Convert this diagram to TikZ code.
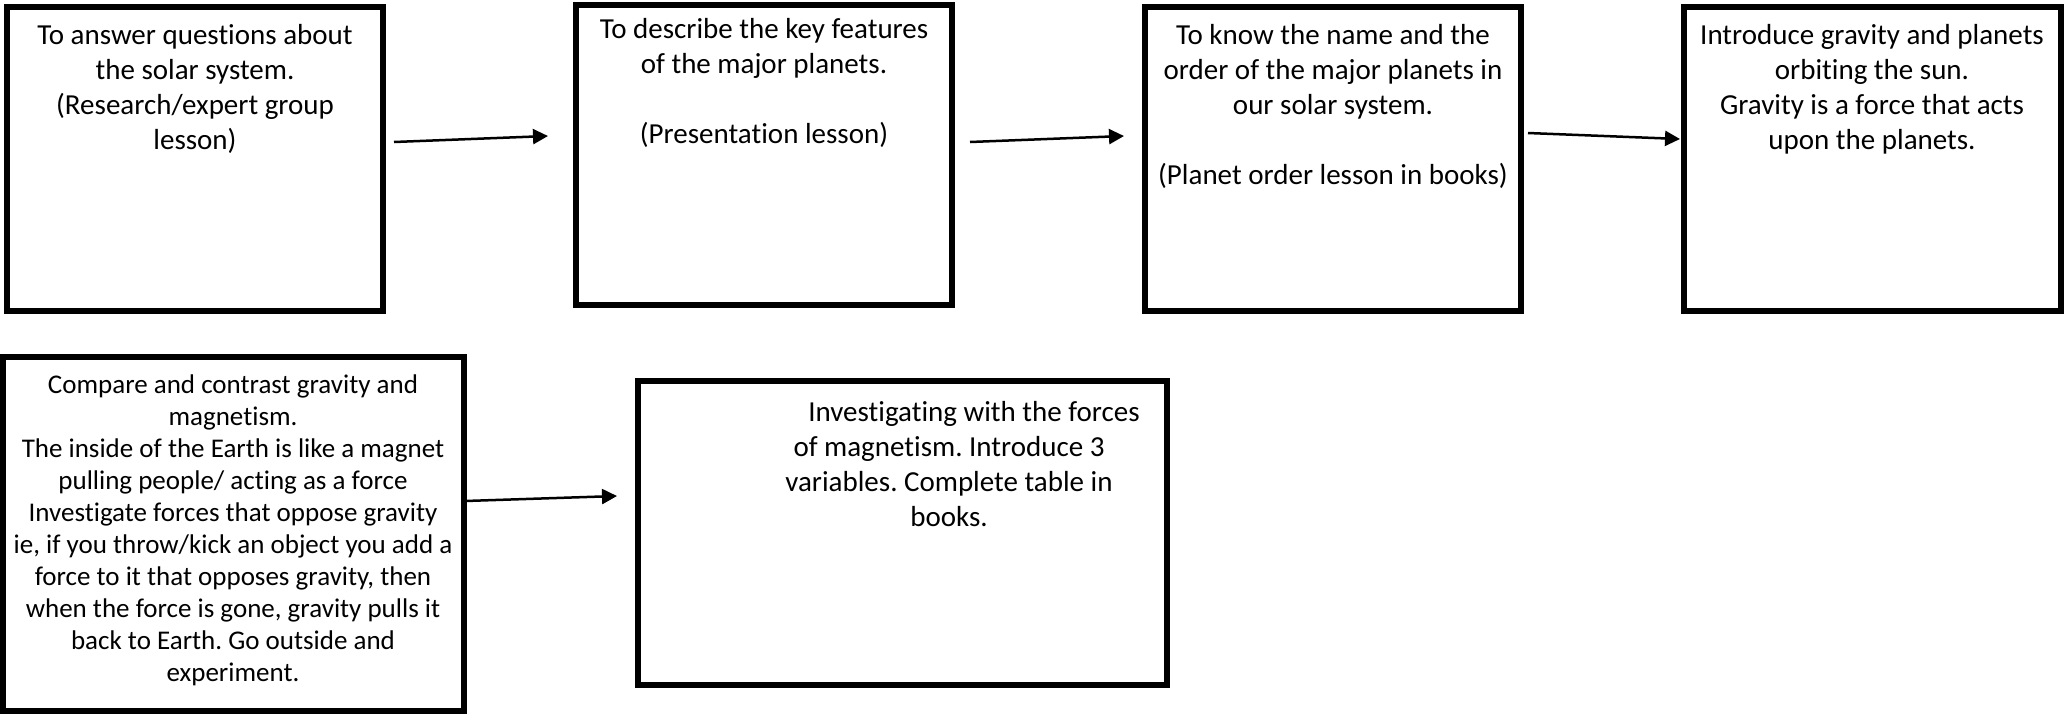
\documentclass[tikz,border=0pt]{standalone}
\usepackage{fontspec}
\setmainfont{Carlito}[Ligatures=NoCommon]
\usetikzlibrary{positioning,arrows.meta}
\frenchspacing
\begin{document}
\begin{tikzpicture}[x=1pt,y=-1pt,
		lesson/.style={draw,line width=6pt,inner sep=0pt},
		txt/.style={inner sep=0pt,align=center,font=\fontsize{29}{35}\selectfont},
		smalltxt/.style={inner sep=0pt,align=center,font=\fontsize{27}{32}\selectfont},
		flow/.style={line width=2.5pt,-{Triangle[length=15pt,width=15pt]}}]
		\useasboundingbox (0,0) rectangle (2067,716);
		% top row
		\node[lesson,minimum width=376pt,minimum height=304pt] (solar) at (195,159) {};
		\node[lesson,minimum width=376pt,minimum height=300pt] (features) at (764,155) {};
		\node[lesson,minimum width=376pt,minimum height=304pt] (order) at (1333,159) {};
		\node[lesson,minimum width=377pt,minimum height=304pt] (gravity) at (1872,159) {};
		% bottom row
		\node[lesson,minimum width=461pt,minimum height=354pt] (contrast) at (233,534) {};
		\node[lesson,minimum width=529pt,minimum height=304pt] (magnet) at (902,533) {};
		\node[txt,below=20pt of solar.north] (solar-t) {To answer questions about\\the solar system.\\(Research/expert group\\lesson)};
		\node[txt,below=16pt of features.north] (features-t) {To describe the key features\\of the major planets.\\[35pt](Presentation lesson)};
		\node[txt,below=20pt of order.north] (order-t) {To know the name and the\\order of the major planets in\\our solar system.\\[35pt](Planet order lesson in books)};
		\node[txt,below=20pt of gravity.north] (gravity-t) {Introduce gravity and planets\\orbiting the sun.\\Gravity is a force that acts\\upon the planets.};
		\node[smalltxt,below=21pt of contrast.north] (contrast-t) {Compare and contrast gravity and\\magnetism.\\The inside of the Earth is like a magnet\\pulling people/ acting as a force\\Investigate forces that oppose gravity\\ie, if you throw/kick an object you add a\\force to it that opposes gravity, then\\when the force is gone, gravity pulls it\\back to Earth. Go outside and\\experiment.};
		\node[txt,below=23pt of magnet.north,xshift=47pt] (magnet-t) {\hspace*{50pt}Investigating with the forces\\of magnetism. Introduce 3\\variables. Complete table in\\books.};
		\coordinate (s1) at (394,142);
		\coordinate (e1) at (548,136);
		\coordinate (s2) at (970,142);
		\coordinate (e2) at (1124,136);
		\coordinate (s3) at (1528,133);
		\coordinate (e3) at (1680,139);
		\coordinate (s4) at (465,501);
		\coordinate (e4) at (617,496);
		\draw[flow] (s1) -- (e1);
		\draw[flow] (s2) -- (e2);
		\draw[flow] (s3) -- (e3);
		\draw[flow] (s4) -- (e4);
	\end{tikzpicture}
\end{document}
